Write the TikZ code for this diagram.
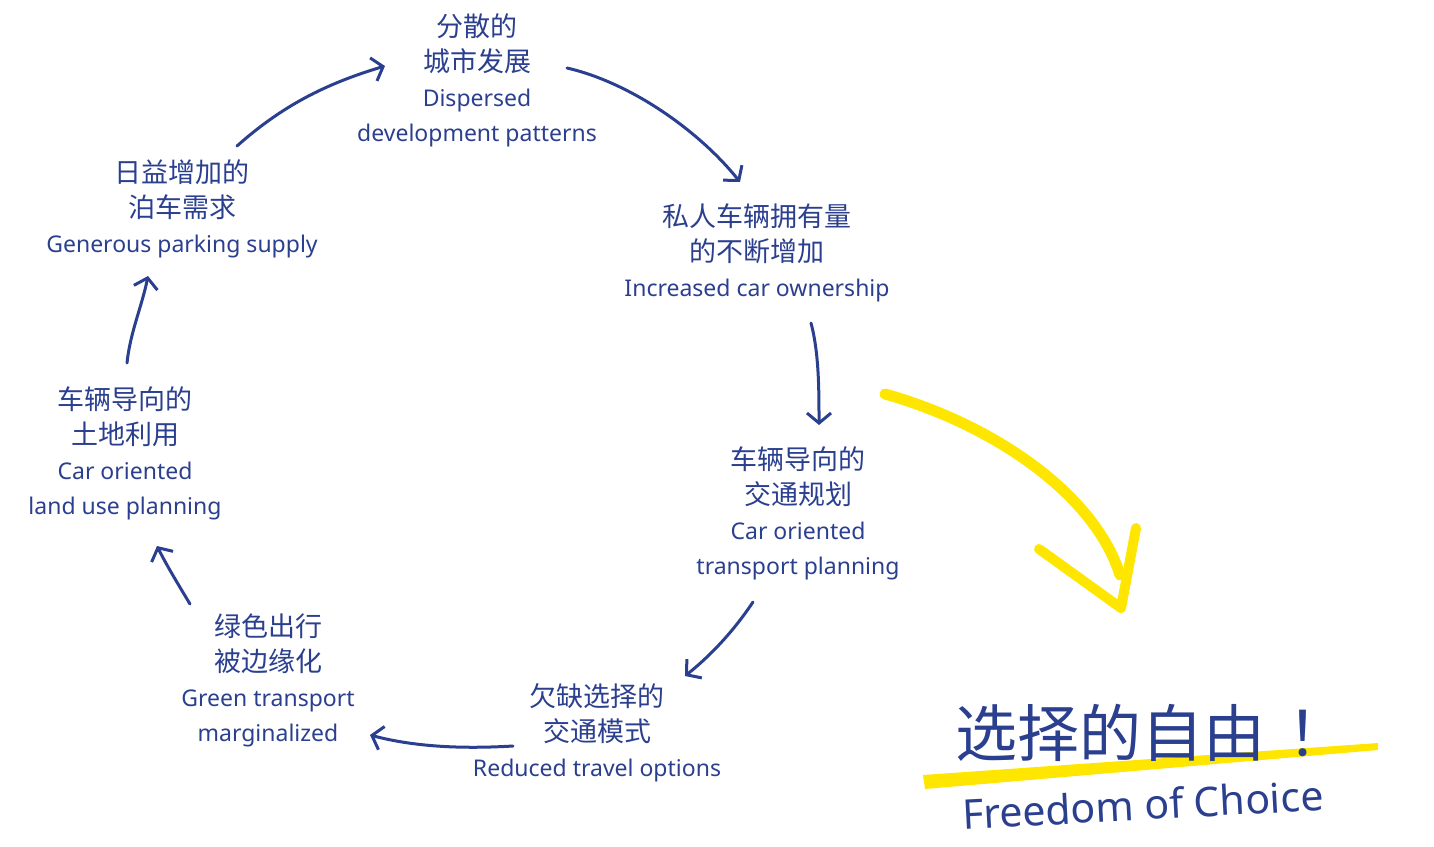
\documentclass[tikz,border=0pt]{standalone}
\usepackage{fontspec}
\setmainfont{Noto Sans}
\newfontfamily\cjk{Noto Sans CJK SC}
\usetikzlibrary{arrows.meta}
\definecolor{ink}{HTML}{2B3F8F}
\definecolor{hl}{HTML}{FFE600}
\newcommand\zh[1]{{\cjk\fontsize{27}{35}\selectfont #1}}
\begin{document}
\begin{tikzpicture}[x=1pt,y=-1pt,
  txt/.style={align=center, text=ink, font=\fontsize{23}{35}\selectfont, inner sep=0pt},
  arr/.style={draw=ink, line width=3pt, line cap=round,
    -{Straight Barb[length=10pt,width=24pt,line width=3pt]}},
  brush/.style={draw=hl, line width=11pt, line cap=round, line join=round}]
\useasboundingbox (0,0) rectangle (1434,846);

% nodes
\node[txt] (dispersed) at (477,80) {\zh{分散的}\\\zh{城市发展}\\Dispersed\\development patterns};
\node[txt] (ownership) at (757,253) {\zh{私人车辆拥有量}\\\zh{的不断增加}\\Increased car ownership};
\node[txt] (transport) at (798,513) {\zh{车辆导向的}\\\zh{交通规划}\\Car oriented\\transport planning};
\node[txt] (reduced) at (597,733) {\zh{欠缺选择的}\\\zh{交通模式}\\Reduced travel options};
\node[txt] (green) at (268,680) {\zh{绿色出行}\\\zh{被边缘化}\\Green transport\\marginalized};
\node[txt] (landuse) at (125,453) {\zh{车辆导向的}\\\zh{土地利用}\\Car oriented\\land use planning};
\node[txt] (parking) at (182,209) {\zh{日益增加的}\\\zh{泊车需求}\\Generous parking supply};

% cycle arrows
\draw[arr] ([shift={(55,-63)}]parking.center) .. controls +(45,-40) and +(-60,18) .. ([shift={(-92,-14)}]dispersed.center);
\draw[arr] ([shift={(90,-12)}]dispersed.center) .. controls +(65,15) and +(-40,-50) .. ([shift={(-17,-71)}]ownership.center);
\draw[arr] ([shift={(54,70)}]ownership.center) .. controls +(8,30) and +(0,-35) .. ([shift={(21,-88)}]transport.center);
\draw[arr] ([shift={(-45,89)}]transport.center) .. controls +(-20,30) and +(25,-20) .. ([shift={(88,-57)}]reduced.center);
\draw[arr] ([shift={(-84,13)}]reduced.center) .. controls +(-50,3) and +(45,12) .. ([shift={(102,55)}]green.center);
\draw[arr] ([shift={(-78,-76)}]green.center) .. controls +(-12,-20) and +(10,20) .. ([shift={(32,93)}]landuse.center);
\draw[arr] ([shift={(2,-90)}]landuse.center) .. controls +(3,-30) and +(-6,30) .. ([shift={(-34,67)}]parking.center);

% yellow brush arrow
\draw[brush] (885,394) .. controls (995,425) and (1095,495) .. (1120,575);
\draw[brush, line width=10pt] (1039,549) -- (1121,608) -- (1136,528);

% yellow underline
\fill[hl] (923,775) -- (1378,743) -- (1378,750) -- (925,789) -- cycle;

% title
\node[anchor=west, text=ink, inner sep=0pt, font=\cjk\fontsize{62}{70}\selectfont] (title) at (955,733) {选择的自由\hspace{22pt}！};
\node[anchor=west, text=ink, inner sep=0pt, rotate=3, font=\fontsize{41}{46}\selectfont] (freedom) at (962,814) {Freedom of Choice};
\end{tikzpicture}
\end{document}
